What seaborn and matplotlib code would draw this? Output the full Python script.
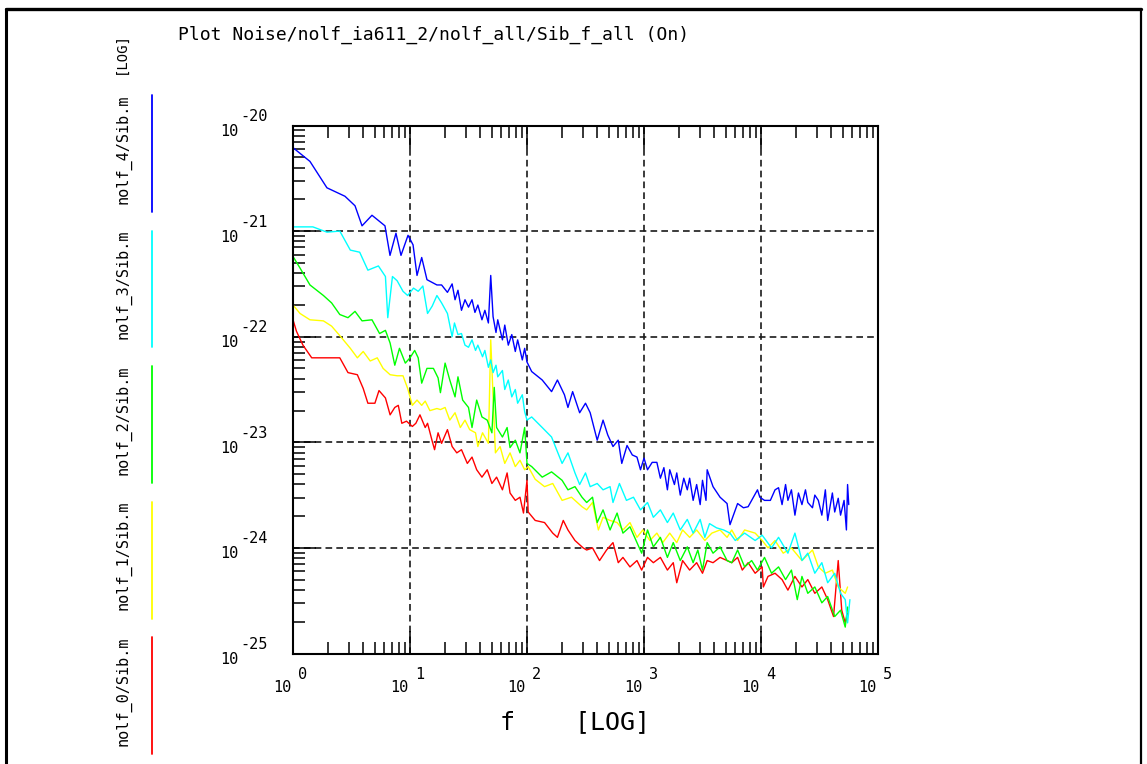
"""
IC-CAP style noise plot: Sib versus f for the five nolf traces, log-log.
"""
import numpy as np
import pandas as pd
import matplotlib
matplotlib.use('Agg')
import matplotlib.pyplot as plt
from matplotlib.lines import Line2D
from matplotlib.ticker import LogLocator, NullFormatter
import seaborn as sns

W, H = 1147, 764
MONO = ['DejaVu Sans Mono', 'DejaVu Sans']

TITLE = 'Plot Noise/nolf_ia611_2/nolf_all/Sib_f_all (On)'
TRACES = ['nolf_0/Sib.m', 'nolf_1/Sib.m', 'nolf_2/Sib.m', 'nolf_3/Sib.m', 'nolf_4/Sib.m']
COLORS = ['#ff0000', '#ffff00', '#00ff00', '#00ffff', '#0000ff']
X_EXP = [0, 1, 2, 3, 4, 5]
Y_EXP = [-20, -21, -22, -23, -24, -25]

# values, stored as decades: log10(f [Hz]) and log10(Sib)
f0 = [0.00, 0.03, 0.085, 0.16, 0.26, 0.40, 0.47, 0.55, 0.60, 0.64,
      0.70, 0.735, 0.79, 0.83, 0.87, 0.90, 0.93, 0.97, 1.02, 1.05,
      1.085, 1.13, 1.15, 1.19, 1.21, 1.24, 1.27, 1.32, 1.36, 1.40,
      1.44, 1.49, 1.53, 1.57, 1.615, 1.66, 1.70, 1.74, 1.79, 1.83,
      1.855, 1.90, 1.94, 1.97, 2.00, 2.01, 2.07, 2.15, 2.22, 2.26,
      2.31, 2.35, 2.41, 2.48, 2.51, 2.56, 2.62, 2.68, 2.735, 2.78,
      2.82, 2.88, 2.94, 2.98, 3.03, 3.08, 3.14, 3.20, 3.25, 3.28,
      3.33, 3.39, 3.45, 3.50, 3.54, 3.59, 3.65, 3.71, 3.75, 3.80,
      3.84, 3.89, 3.95, 4.01, 4.02, 4.06, 4.12, 4.18, 4.23, 4.29,
      4.35, 4.40, 4.46, 4.52, 4.57, 4.62, 4.66, 4.69, 4.72, 4.74]
s0 = [-21.84, -21.95, -22.08, -22.20, -22.20, -22.20, -22.34, -22.36, -22.49, -22.63,
      -22.63, -22.51, -22.58, -22.74, -22.67, -22.65, -22.82, -22.80, -22.85, -22.82,
      -22.74, -22.86, -22.82, -22.99, -23.07, -22.91, -23.01, -22.88, -23.04, -23.10,
      -23.07, -23.20, -23.14, -23.26, -23.33, -23.26, -23.39, -23.33, -23.45, -23.29,
      -23.48, -23.55, -23.52, -23.67, -23.36, -23.66, -23.74, -23.76, -23.86, -23.90,
      -23.74, -23.83, -23.93, -24.00, -24.02, -24.00, -24.12, -24.02, -23.95, -24.14,
      -24.09, -24.18, -24.12, -24.21, -24.09, -24.14, -24.09, -24.21, -24.14, -24.33,
      -24.12, -24.21, -24.14, -24.24, -24.12, -24.14, -24.09, -24.12, -24.14, -24.09,
      -24.21, -24.14, -24.24, -24.18, -24.37, -24.27, -24.24, -24.30, -24.40, -24.27,
      -24.37, -24.30, -24.43, -24.37, -24.49, -24.65, -24.12, -24.59, -24.71, -24.62]

f1 = [0.00, 0.06, 0.145, 0.26, 0.33, 0.40, 0.49, 0.55, 0.60, 0.66,
      0.72, 0.77, 0.83, 0.89, 0.94, 0.98, 1.02, 1.06, 1.10, 1.13,
      1.17, 1.23, 1.26, 1.30, 1.34, 1.385, 1.43, 1.47, 1.51, 1.56,
      1.58, 1.62, 1.67, 1.69, 1.73, 1.77, 1.81, 1.855, 1.90, 1.94,
      1.98, 2.01, 2.07, 2.15, 2.22, 2.30, 2.38, 2.47, 2.51, 2.56,
      2.61, 2.65, 2.71, 2.77, 2.82, 2.88, 2.94, 2.99, 3.05, 3.11,
      3.16, 3.22, 3.28, 3.33, 3.39, 3.45, 3.52, 3.58, 3.65, 3.71,
      3.75, 3.80, 3.86, 3.95, 4.01, 4.06, 4.12, 4.19, 4.26, 4.35,
      4.44, 4.49, 4.55, 4.61, 4.66, 4.72, 4.74]
s1 = [-21.70, -21.78, -21.84, -21.85, -21.90, -21.99, -22.11, -22.20, -22.14, -22.23,
      -22.20, -22.30, -22.36, -22.37, -22.37, -22.49, -22.65, -22.60, -22.65, -22.61,
      -22.70, -22.68, -22.69, -22.67, -22.79, -22.72, -22.86, -22.79, -22.88, -22.91,
      -23.04, -22.91, -23.01, -22.03, -23.10, -23.04, -23.20, -23.10, -23.23, -23.17,
      -23.26, -23.23, -23.35, -23.42, -23.39, -23.55, -23.52, -23.61, -23.64, -23.57,
      -23.83, -23.71, -23.74, -23.76, -23.83, -23.76, -23.90, -23.83, -23.93, -23.86,
      -23.95, -23.86, -23.95, -23.83, -23.90, -23.83, -23.93, -23.86, -23.83, -23.90,
      -23.83, -23.93, -23.83, -23.86, -23.93, -24.00, -23.93, -24.05, -24.00, -24.12,
      -24.02, -24.18, -24.24, -24.21, -24.37, -24.43, -24.37]

f2 = [0.00, 0.06, 0.145, 0.26, 0.33, 0.40, 0.47, 0.53, 0.59, 0.675,
      0.74, 0.79, 0.83, 0.87, 0.91, 0.96, 1.00, 1.04, 1.07, 1.10,
      1.145, 1.20, 1.24, 1.26, 1.30, 1.34, 1.385, 1.41, 1.45, 1.50,
      1.53, 1.57, 1.615, 1.66, 1.70, 1.72, 1.74, 1.79, 1.83, 1.855,
      1.90, 1.94, 1.98, 2.00, 2.04, 2.13, 2.21, 2.30, 2.35, 2.41,
      2.47, 2.51, 2.56, 2.60, 2.65, 2.71, 2.77, 2.82, 2.88, 2.94,
      2.98, 3.03, 3.08, 3.14, 3.20, 3.25, 3.31, 3.37, 3.42, 3.46,
      3.50, 3.54, 3.59, 3.65, 3.71, 3.75, 3.80, 3.86, 3.92, 3.97,
      4.03, 4.09, 4.15, 4.21, 4.26, 4.31, 4.35, 4.40, 4.46, 4.52,
      4.57, 4.63, 4.68, 4.72, 4.74]
s2 = [-21.24, -21.35, -21.51, -21.61, -21.68, -21.79, -21.82, -21.76, -21.85, -21.84,
      -21.97, -21.94, -22.06, -22.27, -22.11, -22.25, -22.20, -22.13, -22.20, -22.44,
      -22.30, -22.30, -22.39, -22.53, -22.25, -22.41, -22.57, -22.38, -22.60, -22.67,
      -22.86, -22.60, -22.76, -22.79, -22.91, -22.48, -22.86, -22.95, -22.86, -23.05,
      -22.98, -23.10, -22.86, -23.20, -23.23, -23.33, -23.28, -23.36, -23.45, -23.42,
      -23.52, -23.57, -23.52, -23.76, -23.64, -23.83, -23.67, -23.86, -23.80, -23.95,
      -24.05, -23.83, -23.99, -23.90, -24.09, -23.95, -24.12, -23.99, -24.14, -24.02,
      -24.21, -23.95, -24.05, -23.99, -24.12, -24.14, -24.02, -24.18, -24.12, -24.21,
      -24.09, -24.24, -24.18, -24.30, -24.21, -24.49, -24.27, -24.43, -24.37, -24.52,
      -24.46, -24.65, -24.59, -24.75, -24.56]

f3 = [0.00, 0.17, 0.29, 0.40, 0.49, 0.57, 0.64, 0.73, 0.79, 0.81,
      0.85, 0.89, 0.94, 0.98, 1.03, 1.07, 1.11, 1.15, 1.19, 1.23,
      1.27, 1.32, 1.36, 1.38, 1.41, 1.44, 1.47, 1.50, 1.53, 1.56,
      1.58, 1.62, 1.64, 1.67, 1.69, 1.71, 1.735, 1.75, 1.79, 1.81,
      1.84, 1.87, 1.90, 1.92, 1.96, 1.98, 2.00, 2.04, 2.13, 2.21,
      2.30, 2.35, 2.41, 2.45, 2.50, 2.54, 2.60, 2.65, 2.71, 2.735,
      2.79, 2.85, 2.91, 2.97, 3.03, 3.08, 3.14, 3.20, 3.25, 3.31,
      3.37, 3.42, 3.48, 3.52, 3.56, 3.62, 3.68, 3.735, 3.78, 3.86,
      3.95, 4.01, 4.09, 4.15, 4.23, 4.29, 4.35, 4.40, 4.46, 4.52,
      4.57, 4.63, 4.68, 4.72, 4.74, 4.76]
s3 = [-20.96, -20.96, -21.01, -21.00, -21.18, -21.20, -21.37, -21.33, -21.43, -21.82,
      -21.43, -21.47, -21.57, -21.61, -21.54, -21.57, -21.52, -21.78, -21.71, -21.61,
      -21.68, -21.78, -22.00, -21.87, -21.98, -21.97, -22.08, -22.10, -22.03, -22.13,
      -22.08, -22.19, -22.13, -22.29, -22.22, -22.34, -22.27, -22.38, -22.32, -22.50,
      -22.41, -22.57, -22.50, -22.63, -22.55, -22.71, -22.79, -22.76, -22.86, -22.95,
      -23.20, -23.10, -23.29, -23.40, -23.29, -23.42, -23.39, -23.45, -23.42, -23.57,
      -23.39, -23.55, -23.52, -23.64, -23.57, -23.71, -23.64, -23.76, -23.67, -23.83,
      -23.73, -23.86, -23.73, -23.90, -23.77, -23.81, -23.83, -23.86, -23.93, -23.86,
      -23.93, -23.88, -24.00, -23.90, -24.05, -23.86, -24.12, -24.05, -24.24, -24.14,
      -24.33, -24.24, -24.43, -24.49, -24.71, -24.49]

f4 = [0.00, 0.145, 0.29, 0.444, 0.53, 0.59, 0.675, 0.786, 0.829, 0.88,
      0.923, 0.983, 1.026, 1.06, 1.10, 1.145, 1.23, 1.27, 1.32, 1.36,
      1.385, 1.41, 1.44, 1.47, 1.50, 1.53, 1.555, 1.58, 1.615, 1.64,
      1.67, 1.69, 1.71, 1.735, 1.75, 1.79, 1.81, 1.84, 1.87, 1.90,
      1.92, 1.96, 1.98, 2.00, 2.04, 2.13, 2.21, 2.26, 2.32, 2.35,
      2.39, 2.45, 2.50, 2.54, 2.60, 2.65, 2.69, 2.735, 2.78, 2.81,
      2.855, 2.90, 2.94, 2.97, 3.00, 3.03, 3.07, 3.11, 3.14, 3.17,
      3.20, 3.22, 3.26, 3.28, 3.31, 3.34, 3.37, 3.39, 3.42, 3.45,
      3.48, 3.50, 3.53, 3.54, 3.59, 3.65, 3.71, 3.735, 3.80, 3.85,
      3.89, 3.92, 3.97, 3.99, 4.03, 4.08, 4.12, 4.15, 4.18, 4.21,
      4.23, 4.26, 4.29, 4.32, 4.35, 4.38, 4.40, 4.44, 4.46, 4.49,
      4.52, 4.55, 4.57, 4.61, 4.63, 4.66, 4.68, 4.71, 4.73, 4.74,
      4.75]
s4 = [-20.21, -20.34, -20.59, -20.67, -20.76, -20.95, -20.85, -20.95, -21.23, -21.02,
      -21.23, -21.04, -21.13, -21.42, -21.25, -21.46, -21.51, -21.51, -21.58, -21.50,
      -21.65, -21.56, -21.75, -21.65, -21.72, -21.65, -21.77, -21.70, -21.84, -21.75,
      -21.87, -21.42, -21.81, -21.96, -21.84, -22.03, -21.89, -22.08, -21.98, -22.14,
      -22.03, -22.22, -22.11, -22.24, -22.33, -22.41, -22.52, -22.41, -22.55, -22.67,
      -22.52, -22.72, -22.63, -22.72, -22.98, -22.79, -22.93, -23.04, -22.98, -23.20,
      -23.03, -23.12, -23.14, -23.26, -23.15, -23.26, -23.19, -23.19, -23.34, -23.24,
      -23.45, -23.26, -23.40, -23.29, -23.50, -23.34, -23.45, -23.34, -23.55, -23.40,
      -23.59, -23.36, -23.55, -23.26, -23.42, -23.52, -23.58, -23.78, -23.58, -23.62,
      -23.61, -23.55, -23.45, -23.52, -23.55, -23.55, -23.45, -23.43, -23.59, -23.40,
      -23.55, -23.45, -23.69, -23.48, -23.59, -23.45, -23.57, -23.62, -23.50, -23.55,
      -23.69, -23.45, -23.74, -23.48, -23.66, -23.53, -23.69, -23.55, -23.83, -23.40,
      -23.59]

F_LOG = [f0, f1, f2, f3, f4]
S_LOG = [s0, s1, s2, s3, s4]


def build_frame():
    parts = []
    for name, lf, ls in zip(TRACES, F_LOG, S_LOG):
        parts.append(pd.DataFrame({'f': 10.0 ** np.array(lf),
                                   'Sib': 10.0 ** np.array(ls),
                                   'trace': name}))
    return pd.concat(parts, ignore_index=True)


def main():
    sns.set_theme(style='white')
    plt.rcParams['font.family'] = MONO
    plt.rcParams['text.color'] = 'black'

    df = build_frame()

    fig = plt.figure(figsize=(W / 100, H / 100), dpi=100)
    ax = fig.add_axes([293 / W, 1 - 653.5 / H, 585 / W, 528 / H])
    ax.set_xscale('log')
    ax.set_yscale('log')

    sns.lineplot(data=df, x='f', y='Sib', hue='trace', hue_order=TRACES,
                 palette=COLORS, sort=False, estimator=None, legend=False,
                 linewidth=1.0, ax=ax)

    ax.set_xlim(1, 1e5)
    ax.set_ylim(1e-25, 1e-20)
    ax.set_xlabel('')
    ax.set_ylabel('')

    for axis in (ax.xaxis, ax.yaxis):
        axis.set_major_locator(LogLocator(base=10, numticks=12))
        axis.set_minor_locator(LogLocator(base=10, subs=np.arange(2, 10), numticks=12))
        axis.set_minor_formatter(NullFormatter())
    ax.tick_params(which='both', direction='in', bottom=True, left=True, top=True, right=False,
                   labelbottom=False, labelleft=False, color='black', width=1.1)
    ax.tick_params(which='major', length=16.5)
    ax.tick_params(which='minor', length=8.6)
    ax.grid(True, which='major', color='#1a1a1a', linewidth=1.2, linestyle=(0, (4, 2.5)))
    ax.grid(False, which='minor')
    for sp in ax.spines.values():
        sp.set_color('black')
        sp.set_linewidth(1.5)

    # tick labels drawn as "10" plus a raised exponent, like the original
    for e in X_EXP:
        ax.annotate('10', xy=(10.0 ** e, 0), xycoords=('data', 'axes fraction'),
                    xytext=(-2, -34), textcoords='offset pixels', ha='right', va='center',
                    fontsize=11, annotation_clip=False)
        ax.annotate(str(e), xy=(10.0 ** e, 0), xycoords=('data', 'axes fraction'),
                    xytext=(5, -21), textcoords='offset pixels', ha='left', va='center',
                    fontsize=11, annotation_clip=False)
    for e in Y_EXP:
        ax.annotate('10', xy=(0, 10.0 ** e), xycoords=('axes fraction', 'data'),
                    xytext=(-55, -6), textcoords='offset pixels', ha='right', va='center',
                    fontsize=11, annotation_clip=False)
        ax.annotate(str(e), xy=(0, 10.0 ** e), xycoords=('axes fraction', 'data'),
                    xytext=(-53, 9), textcoords='offset pixels', ha='left', va='center',
                    fontsize=11, annotation_clip=False)

    fig.text(178 / W, 1 - 35 / H, TITLE, ha='left', va='center', fontsize=13)
    fig.text(500 / W, 1 - 722 / H, 'f    [LOG]', ha='left', va='center', fontsize=18)
    fig.text(121 / W, 1 - 53 / H, '[LOG]', rotation=90, ha='center', va='center', fontsize=10)

    # vertical legend down the left side, top entry is the last trace
    for i, (name, col) in enumerate(zip(TRACES[::-1], COLORS[::-1])):
        y0 = 95 + i * 135.5
        fig.add_artist(Line2D([152 / W, 152 / W], [1 - y0 / H, 1 - (y0 + 117) / H],
                              color=col, linewidth=1.3))
        fig.text(123 / W, 1 - (y0 + 54) / H, name, rotation=90, ha='center',
                 va='center', fontsize=11)

    # window frame
    fig.add_artist(Line2D([6 / W, 1141 / W], [1 - 8.5 / H, 1 - 8.5 / H], color='black', linewidth=2.4))
    fig.add_artist(Line2D([6 / W, 6 / W], [1 - 8.5 / H, 0], color='black', linewidth=2.2))
    fig.add_artist(Line2D([1140.5 / W, 1140.5 / W], [1 - 8.5 / H, 0], color='black', linewidth=1.6))

    fig.savefig('out.png', dpi=100)
    plt.close(fig)


if __name__ == '__main__':
    main()
